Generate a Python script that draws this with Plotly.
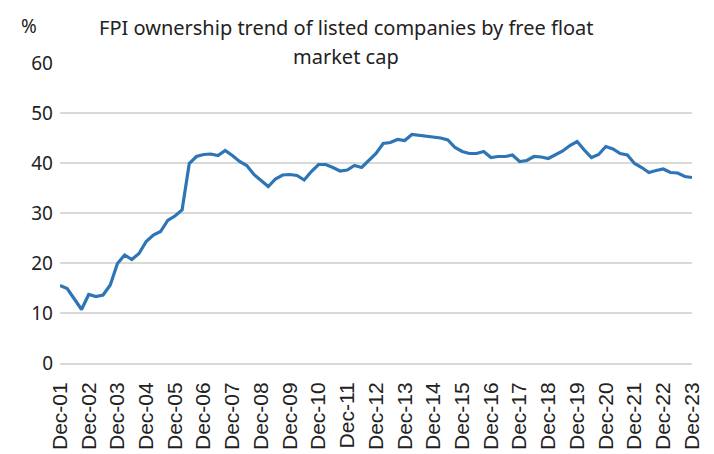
import plotly.graph_objects as go

years = [f"{y:02d}" for y in range(1, 24)]
tick_labels = [f"Dec-{y}" for y in years]

fpi_share = [
    15.5, 14.9, 12.8, 10.7, 13.7, 13.3, 13.6, 15.6,
    19.9, 21.6, 20.7, 21.9, 24.3, 25.6, 26.3, 28.5,
    29.4, 30.6, 39.9, 41.3, 41.7, 41.8, 41.5, 42.5,
    41.5, 40.3, 39.5, 37.7, 36.5, 35.3, 36.8, 37.6,
    37.7, 37.5, 36.6, 38.3, 39.7, 39.7, 39.1, 38.4,
    38.6, 39.5, 39.1, 40.6, 41.9, 43.9, 44.1, 44.7,
    44.5, 45.7, 45.5, 45.3, 45.2, 45.0, 44.6, 43.1,
    42.3, 41.9, 41.9, 42.3, 41.1, 41.3, 41.3, 41.6,
    40.3, 40.5, 41.3, 41.2, 40.9, 41.7, 42.4, 43.5,
    44.3, 42.6, 41.1, 41.7, 43.3, 42.8, 41.9, 41.6,
    39.9, 39.1, 38.1, 38.5, 38.8, 38.1, 38.0, 37.3,
    37.1,
]

title_lines = ["FPI ownership trend of listed companies by free float", "market cap"]

quarters = list(range(len(fpi_share)))
tick_pos = quarters[::4]

W, H = 714, 454
L, R, T, B = 60, 22, 63, 91
PW, PH = W - L - R, H - T - B


def px(x):
    return (x - L) / PW


def py(y):
    return (H - B - y) / PH


fig = go.Figure()
fig.add_trace(go.Scatter(
    x=quarters, y=fpi_share, mode="lines",
    line=dict(color="#2e75b6", width=3.2),
    hoverinfo="skip", showlegend=False,
))

txt = "#222222"
main_font = "Noto Sans, Open Sans, sans-serif"

annotations = [
    dict(text=title_lines[0], xref="paper", yref="paper", x=px(346), y=py(28),
         xanchor="center", yanchor="middle", showarrow=False,
         font=dict(family=main_font, size=20, color=txt)),
    dict(text=title_lines[1], xref="paper", yref="paper", x=px(346), y=py(57),
         xanchor="center", yanchor="middle", showarrow=False,
         font=dict(family=main_font, size=20, color=txt)),
    dict(text="%", xref="paper", yref="paper", x=px(29), y=py(26),
         xanchor="center", yanchor="middle", showarrow=False,
         font=dict(family=main_font, size=19, color=txt)),
]

fig.update_layout(
    width=W, height=H,
    margin=dict(l=L, r=R, t=T, b=B),
    paper_bgcolor="white", plot_bgcolor="white",
    font=dict(family=main_font, color=txt),
    xaxis=dict(
        range=[0, len(fpi_share) - 1], automargin=False,
        tickmode="array", tickvals=tick_pos, ticktext=tick_labels,
        tickangle=-90, showgrid=False, zeroline=False,
        showline=True, linecolor="#d9d9d9", linewidth=1.8,
        ticks="", ticklen=0, ticklabelstandoff=9,
        tickfont=dict(family="Liberation Sans, Arial, sans-serif", size=21, color=txt),
    ),
    yaxis=dict(
        range=[0, 60], dtick=10, tick0=0, automargin=False,
        showgrid=True, gridcolor="#d9d9d9", gridwidth=1.8,
        zeroline=False, showline=False, ticks="", ticklabelstandoff=6,
        tickfont=dict(family=main_font, size=19, color=txt),
    ),
    annotations=annotations,
)

fig.write_html("out.html")
